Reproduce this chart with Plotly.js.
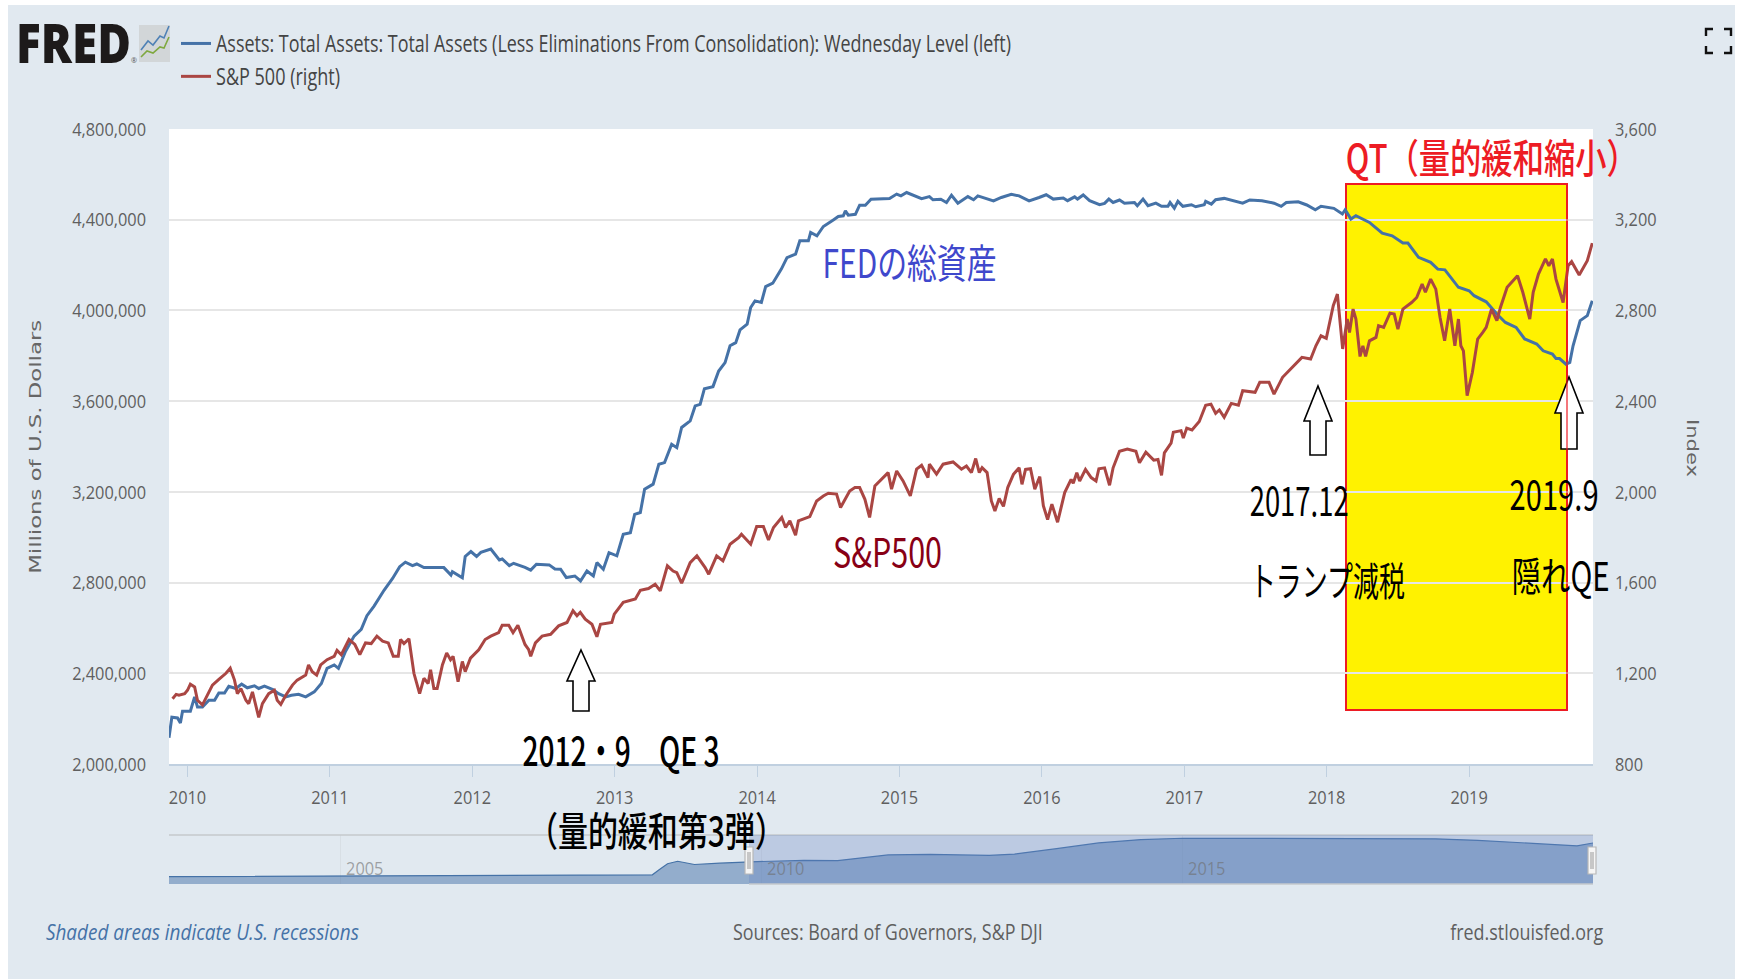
<!DOCTYPE html>
<html>
<head>
<meta charset="utf-8">
<script src="https://cdn.plot.ly/plotly-3.0.1.min.js"></script>
<style>
html,body{margin:0;padding:0;background:#fff;width:1741px;height:980px;overflow:hidden}
#chart{position:absolute;left:8px;top:5px;width:1727px;height:974px}
</style>
</head>
<body>
<div id="chart"></div>
<script>
// Total assets, thousands of millions-of-dollars axis units (value x 1000 = USD millions)
const assetYears = [2009.87,2009.89,2009.93,2009.95,2009.965,2010.02,2010.05,2010.07,2010.105,2010.15,2010.19,2010.22,2010.26,2010.29,2010.34,2010.38,2010.42,2010.47,2010.50,2010.54,2010.60,2010.64,2010.69,2010.73,2010.78,2010.83,2010.89,2010.94,2010.98,2011.03,2011.06,2011.11,2011.17,2011.22,2011.26,2011.31,2011.38,2011.44,2011.49,2011.53,2011.58,2011.61,2011.66,2011.71,2011.75,2011.80,2011.85,2011.86,2011.93,2011.95,2011.99,2012.03,2012.06,2012.13,2012.19,2012.21,2012.26,2012.29,2012.37,2012.41,2012.45,2012.54,2012.58,2012.62,2012.66,2012.72,2012.76,2012.805,2012.85,2012.875,2012.92,2012.96,2013.015,2013.06,2013.11,2013.14,2013.18,2013.21,2013.27,2013.31,2013.35,2013.40,2013.436,2013.47,2013.53,2013.565,2013.60,2013.63,2013.69,2013.73,2013.775,2013.81,2013.85,2013.88,2013.93,2013.955,2013.985,2014.03,2014.06,2014.11,2014.17,2014.21,2014.27,2014.30,2014.36,2014.376,2014.42,2014.465,2014.535,2014.57,2014.605,2014.62,2014.64,2014.69,2014.72,2014.76,2014.80,2014.93,2014.98,2015.01,2015.05,2015.095,2015.155,2015.21,2015.235,2015.29,2015.33,2015.365,2015.41,2015.48,2015.52,2015.55,2015.66,2015.715,2015.785,2015.84,2015.91,2015.98,2016.03,2016.08,2016.15,2016.18,2016.23,2016.25,2016.29,2016.335,2016.405,2016.44,2016.47,2016.50,2016.545,2016.58,2016.65,2016.67,2016.71,2016.745,2016.80,2016.84,2016.885,2016.90,2016.93,2016.955,2016.99,2017.05,2017.08,2017.14,2017.15,2017.19,2017.22,2017.28,2017.35,2017.41,2017.46,2017.545,2017.63,2017.68,2017.716,2017.80,2017.86,2017.92,2017.96,2018.05,2018.11,2018.13,2018.17,2018.205,2018.30,2018.39,2018.46,2018.535,2018.57,2018.645,2018.73,2018.78,2018.83,2018.88,2018.925,2019.0,2019.035,2019.12,2019.195,2019.255,2019.33,2019.39,2019.475,2019.52,2019.585,2019.61,2019.635,2019.68,2019.707,2019.73,2019.755,2019.78,2019.83,2019.865];
const assetValues = [2116,2206,2203,2181,2233,2233,2296,2251,2251,2281,2281,2313,2313,2343,2333,2352,2336,2345,2333,2343,2328,2310,2296,2303,2307,2296,2318,2355,2422,2437,2422,2497,2564,2594,2654,2696,2766,2818,2870,2890,2875,2882,2866,2866,2869,2866,2833,2848,2821,2915,2937,2915,2933,2948,2900,2904,2875,2885,2867,2855,2881,2878,2860,2859,2822,2829,2807,2851,2829,2888,2859,2932,2918,3013,3020,3101,3109,3212,3234,3322,3329,3410,3395,3484,3513,3579,3586,3655,3664,3733,3770,3844,3858,3914,3939,4013,4042,4035,4105,4120,4182,4233,4248,4307,4307,4344,4329,4370,4399,4414,4417,4439,4420,4424,4464,4464,4490,4493,4513,4505,4520,4508,4493,4502,4488,4490,4476,4508,4473,4502,4488,4505,4483,4498,4512,4505,4483,4498,4510,4491,4496,4484,4501,4491,4509,4484,4466,4472,4491,4476,4487,4473,4476,4462,4491,4462,4473,4459,4459,4476,4451,4481,4459,4466,4457,4466,4481,4469,4488,4494,4484,4473,4487,4484,4473,4459,4476,4479,4465,4444,4459,4450,4425,4444,4403,4418,4388,4341,4329,4297,4297,4234,4212,4182,4179,4138,4102,4087,4065,4038,3984,3947,3925,3874,3852,3822,3808,3788,3788,3763,3771,3844,3903,3955,3977,4043];

const spYears = [2009.895,2009.92,2009.94,2009.98,2010.0,2010.02,2010.05,2010.07,2010.105,2010.14,2010.175,2010.22,2010.27,2010.30,2010.33,2010.35,2010.375,2010.41,2010.43,2010.456,2010.50,2010.526,2010.57,2010.61,2010.63,2010.655,2010.69,2010.737,2010.77,2010.83,2010.85,2010.876,2010.907,2010.935,2010.98,2011.03,2011.05,2011.08,2011.134,2011.175,2011.21,2011.25,2011.29,2011.33,2011.37,2011.41,2011.445,2011.48,2011.496,2011.52,2011.555,2011.59,2011.63,2011.66,2011.69,2011.707,2011.73,2011.753,2011.79,2011.82,2011.847,2011.865,2011.90,2011.93,2011.95,2011.987,2012.045,2012.09,2012.13,2012.185,2012.21,2012.256,2012.286,2012.32,2012.37,2012.396,2012.41,2012.443,2012.49,2012.55,2012.606,2012.665,2012.707,2012.735,2012.758,2012.793,2012.84,2012.875,2012.90,2012.98,2012.997,2013.06,2013.145,2013.18,2013.237,2013.284,2013.32,2013.37,2013.41,2013.436,2013.47,2013.53,2013.577,2013.635,2013.66,2013.716,2013.76,2013.81,2013.87,2013.89,2013.955,2013.997,2014.044,2014.08,2014.115,2014.173,2014.20,2014.23,2014.27,2014.29,2014.37,2014.418,2014.465,2014.50,2014.558,2014.586,2014.65,2014.687,2014.72,2014.757,2014.79,2014.827,2014.86,2014.92,2014.944,2014.98,2015.025,2015.076,2015.12,2015.155,2015.20,2015.21,2015.26,2015.306,2015.376,2015.435,2015.47,2015.505,2015.535,2015.56,2015.58,2015.615,2015.645,2015.67,2015.70,2015.73,2015.76,2015.80,2015.84,2015.86,2015.885,2015.92,2015.95,2015.985,2016.01,2016.04,2016.07,2016.11,2016.16,2016.205,2016.22,2016.245,2016.265,2016.306,2016.346,2016.38,2016.40,2016.44,2016.475,2016.50,2016.545,2016.60,2016.66,2016.685,2016.73,2016.785,2016.815,2016.84,2016.86,2016.907,2016.923,2016.977,2016.993,2017.017,2017.054,2017.105,2017.15,2017.187,2017.22,2017.246,2017.28,2017.33,2017.38,2017.41,2017.497,2017.53,2017.595,2017.63,2017.69,2017.765,2017.826,2017.887,2017.924,2017.96,2017.997,2018.046,2018.075,2018.112,2018.144,2018.16,2018.185,2018.205,2018.234,2018.254,2018.273,2018.30,2018.346,2018.364,2018.40,2018.444,2018.474,2018.50,2018.535,2018.596,2018.632,2018.67,2018.693,2018.73,2018.766,2018.796,2018.828,2018.864,2018.90,2018.925,2018.942,2018.96,2018.986,2019.023,2019.06,2019.096,2019.12,2019.157,2019.195,2019.22,2019.267,2019.34,2019.377,2019.426,2019.45,2019.487,2019.536,2019.56,2019.585,2019.61,2019.66,2019.695,2019.72,2019.773,2019.83,2019.865];
const spValues = [1088,1107,1103,1110,1125,1152,1140,1081,1061,1103,1148,1173,1200,1222,1170,1110,1133,1081,1066,1118,1006,1066,1110,1125,1081,1063,1103,1148,1170,1192,1237,1207,1192,1237,1260,1275,1301,1282,1349,1327,1282,1334,1331,1364,1342,1334,1275,1275,1349,1331,1352,1200,1110,1178,1155,1215,1133,1133,1237,1290,1260,1275,1163,1252,1207,1267,1304,1349,1364,1379,1412,1412,1379,1412,1327,1304,1275,1334,1364,1372,1409,1424,1476,1454,1469,1439,1416,1361,1416,1424,1461,1513,1528,1566,1574,1593,1563,1674,1651,1644,1597,1688,1718,1666,1637,1718,1696,1769,1798,1813,1769,1847,1847,1788,1843,1887,1843,1872,1809,1872,1891,1960,1982,1994,1990,1931,2004,2019,2019,1967,1887,2026,2048,2085,2012,2092,2048,1982,2100,2117,2063,2122,2078,2122,2132,2100,2114,2085,2147,2085,2107,2085,1960,1916,1971,1936,2019,2077,2106,2033,2099,2102,2012,2067,1939,1878,1946,1866,1997,2055,2038,2084,2048,2099,2063,2048,2102,2106,2029,2106,2179,2189,2179,2128,2175,2140,2143,2073,2172,2215,2263,2270,2237,2281,2273,2310,2382,2387,2346,2361,2329,2390,2382,2446,2439,2483,2483,2431,2505,2556,2593,2586,2644,2688,2677,2821,2872,2630,2762,2703,2806,2762,2597,2644,2597,2666,2681,2733,2725,2788,2784,2718,2806,2835,2857,2916,2880,2938,2894,2769,2666,2806,2644,2762,2644,2622,2424,2527,2674,2703,2725,2806,2755,2813,2902,2953,2880,2762,2880,2960,3027,2997,3027,2938,2835,2997,3015,2956,3019,3097];

const navYears = [2002.96,2004,2005,2006,2007,2008,2008.7,2008.78,2008.88,2009.0,2009.2,2009.5,2009.87,2010.5,2010.9,2011.5,2012.0,2012.7,2013.0,2013.5,2014.0,2014.5,2015.0,2016.0,2017.0,2018.0,2018.5,2019.0,2019.68,2019.87];
const navValues = [720,760,830,850,860,880,905,1400,2000,2240,1920,2050,2190,2330,2310,2870,2920,2820,2950,3480,4050,4380,4510,4490,4450,4450,4310,4090,3760,4040];
const navTickYears = [2005,2010,2015];

const leftTicks = [2000000,2400000,2800000,3200000,3600000,4000000,4400000,4800000];
const rightTicks = [800,1200,1600,2000,2400,2800,3200,3600];
const yearTicks = [2010,2011,2012,2013,2014,2015,2016,2017,2018,2019];

const assetName = 'Assets: Total Assets: Total Assets (Less Eliminations From Consolidation): Wednesday Level (left)';
const spName = 'S&P 500 (right)';

// ---- layout helpers: convert window pixels to paper fractions ----
const DIV_L=8, DIV_T=5, DIV_W=1727, DIV_H=974;
const M={l:161,r:142,t:124,b:95};
const PW=DIV_W-M.l-M.r, PH=DIV_H-M.t-M.b;
const px=x=>(x-DIV_L-M.l)/PW;
const py=y=>1-(y-DIV_T-M.t)/PH;
const PLOT_L=169, PLOT_R=1593, PLOT_T=129, PLOT_B=764, NAV_T=835, NAV_B=884;

const LATIN='"Open Sans","Noto Sans CJK JP",sans-serif';
const JP='"Noto Sans CJK JP","Open Sans",sans-serif';
const GREY='#5f5f5f';
const TICK_SQUEEZE=0.86;

// each note: text, centre x, centre y, font, and the width the glyphs are squeezed to
const noteSpecs=[
  {text:'FRED',x:73,y:42,w:115,font:{family:'"Open Sans",sans-serif',size:54,color:'#1d1a1a',weight:800}},
  {text:'®',x:134,y:60,w:6,font:{family:LATIN,size:7,color:'#555555'}},
  {text:'Millions of U.S. Dollars',x:35,y:447,w:254,angle:-90,font:{family:'"DejaVu Sans",sans-serif',size:16,color:'#666666'}},
  {text:'Index',x:1693,y:448,w:58,angle:90,font:{family:'"DejaVu Sans",sans-serif',size:16,color:'#666666'}},
  {text:'QT（量的緩和縮小）',x:1491,y:156,w:292,font:{family:JP,size:40,color:'#ED1C24',weight:500}},
  {text:'FEDの総資産',x:909,y:261,w:174,font:{family:JP,size:40,color:'#3F48CC'}},
  {text:'S&P500',x:887,y:550,w:109,font:{family:JP,size:40,color:'#880015'}},
  {text:'2012・9　QE 3',x:621,y:749,w:197,font:{family:JP,size:40,color:'#000000',weight:500}},
  {text:'（量的緩和第3弾）',x:656,y:829,w:257,font:{family:JP,size:40,color:'#000000',weight:500}},
  {text:'2017.12',x:1299,y:499,w:99,font:{family:JP,size:40,color:'#000000'}},
  {text:'トランプ減税',x:1327,y:579,w:155,font:{family:JP,size:40,color:'#000000'}},
  {text:'2019.9',x:1554,y:493,w:89,font:{family:JP,size:40,color:'#000000'}},
  {text:'隠れQE',x:1560,y:574,w:98,font:{family:JP,size:40,color:'#000000'}},
  {text:'Shaded areas indicate U.S. recessions',x:202,y:932,w:313,font:{family:LATIN,size:21,color:'#4572A7',style:'italic'}},
  {text:'Sources: Board of Governors, S&P DJI',x:888,y:932,w:310,font:{family:LATIN,size:21,color:GREY}},
  {text:'fred.stlouisfed.org',x:1526,y:932,w:153,font:{family:LATIN,size:21,color:GREY}}
];

function rect(x0,y0,x1,y1,fill,lineColor,lineWidth,layer){
  return {type:'rect',xref:'paper',yref:'paper',x0:px(x0),x1:px(x1),y0:py(y0),y1:py(y1),
    fillcolor:fill,line:{color:lineColor||'rgba(0,0,0,0)',width:lineWidth||0},layer:layer||'above'};
}
function poly(points,fill,lineColor,lineWidth,close){
  const d=points.map((p,i)=>(i?'L':'M')+px(p[0])+','+py(p[1])).join(' ')+(close?' Z':'');
  return {type:'path',xref:'paper',yref:'paper',path:d,fillcolor:fill,line:{color:lineColor,width:lineWidth},layer:'above'};
}
function upArrow(cx,tip,shoulder,base){
  return poly([[cx,tip],[cx+14,shoulder],[cx+8,shoulder],[cx+8,base],[cx-8,base],[cx-8,shoulder],[cx-14,shoulder]],'#ffffff','#000000',1.6,true);
}

const shapes=[
  rect(PLOT_L,PLOT_T,PLOT_R,PLOT_B,'#ffffff',null,0,'below'),
  rect(1346,184,1567,710,'#FFF200','#ED1C24',2,'below'),
  upArrow(581,650,681,711),
  upArrow(1318,386,421,455),
  upArrow(1569,377,413,449),
  poly([[1567,184],[1567,710]],'rgba(0,0,0,0)','#ED1C24',1.2,false),
  // navigator
  {type:'line',xref:'paper',yref:'paper',x0:px(PLOT_L),x1:px(PLOT_R),y0:py(NAV_T),y1:py(NAV_T),line:{color:'#c4c9cc',width:1.5},layer:'above'},
  rect(749,NAV_T,PLOT_R,NAV_B,'rgba(102,133,194,0.3)',null,0,'above'),
  {type:'line',xref:'paper',yref:'paper',x0:px(749),x1:px(PLOT_R),y0:py(NAV_B),y1:py(NAV_B),line:{color:'#c4c9cc',width:1.5},layer:'above'},
  rect(745,847,753,874,'#f5f5f5','#b8b8b8',1.2),
  poly([[748,852],[748,869]],'rgba(0,0,0,0)','#999999',1,false),
  poly([[750,852],[750,869]],'rgba(0,0,0,0)','#999999',1,false),
  rect(1588,847,1596,874,'#f5f5f5','#b8b8b8',1.2),
  poly([[1591,852],[1591,869]],'rgba(0,0,0,0)','#999999',1,false),
  poly([[1593,852],[1593,869]],'rgba(0,0,0,0)','#999999',1,false),
  // logo icon
  rect(139,25,170,62,'#d2d6d8',null,0),
  poly([[141,50],[148,41],[153,45],[160,36],[164,38],[169,26]],'rgba(0,0,0,0)','#4f81b5',1.6,false),
  poly([[141,57],[147,51],[153,53],[160,47],[164,48],[169,37]],'rgba(0,0,0,0)','#7fa83f',1.6,false),
  // fullscreen icon
  poly([[1706,36],[1706,29],[1713,29]],'rgba(0,0,0,0)','#111111',2.4,false),
  poly([[1724,29],[1731,29],[1731,36]],'rgba(0,0,0,0)','#111111',2.4,false),
  poly([[1706,46],[1706,53],[1713,53]],'rgba(0,0,0,0)','#111111',2.4,false),
  poly([[1724,53],[1731,53],[1731,46]],'rgba(0,0,0,0)','#111111',2.4,false)
];

const annotations=noteSpecs.map(n=>({text:n.text,xref:'paper',yref:'paper',x:px(n.x),y:py(n.y),xanchor:'center',yanchor:'middle',
    showarrow:false,textangle:n.angle||0,font:n.font}))
  .concat(navTickYears.map(y=>({text:String(y),xref:'x2',yref:'paper',x:y,y:py(868),xanchor:'left',yanchor:'middle',showarrow:false,
    font:{family:LATIN,size:19,color:'rgba(110,110,110,0.6)'}})));

const traces=[
  {name:assetName,x:assetYears,y:assetValues.map(v=>v*1000),type:'scatter',mode:'lines',xaxis:'x',yaxis:'y',line:{color:'#4572A7',width:3},hoverinfo:'skip'},
  {name:spName,x:spYears,y:spValues,type:'scatter',mode:'lines',xaxis:'x',yaxis:'y2',line:{color:'#AA4643',width:3},hoverinfo:'skip'},
  {name:'navigator',x:navYears,y:navValues,type:'scatter',mode:'lines',fill:'tozeroy',fillcolor:'rgba(69,114,167,0.5)',xaxis:'x2',yaxis:'y3',line:{color:'#4572A7',width:1.2},showlegend:false,hoverinfo:'skip'}
];

const tickFont={family:LATIN,size:19,color:GREY};
const layout={
  width:DIV_W,height:DIV_H,margin:M,
  paper_bgcolor:'#E1E9F0',plot_bgcolor:'rgba(0,0,0,0)',showlegend:true,
  font:{family:LATIN,color:GREY,size:19},
  legend:{x:px(176),y:py(22),xanchor:'left',yanchor:'top',bgcolor:'rgba(0,0,0,0)',font:{family:LATIN,size:23,color:'#444444'},traceorder:'normal',itemwidth:30},
  xaxis:{type:'linear',range:[2009.87,2019.87],domain:[0,1],anchor:'y',tickvals:yearTicks,ticktext:yearTicks.map(String),
    showgrid:false,zeroline:false,ticks:'outside',ticklen:11,tickwidth:1,tickcolor:'#C0D0E0',showline:true,linecolor:'#C0D0E0',linewidth:2,ticklabelstandoff:4,tickfont:tickFont},
  yaxis:{range:[2000000,4800000],domain:[(NAV_B-PLOT_B)/PH,1],anchor:'x',tickvals:leftTicks,tickformat:',d',showgrid:true,gridcolor:'#E6E6E6',gridwidth:2,zeroline:false,showline:false,ticks:'',ticklabelstandoff:22,tickfont:tickFont},
  yaxis2:{range:[800,3600],overlaying:'y',side:'right',anchor:'x',tickvals:rightTicks,tickformat:',d',showgrid:false,zeroline:false,showline:false,ticks:'',ticklabelstandoff:21,tickfont:tickFont},
  xaxis2:{type:'linear',range:[2002.96,2019.87],domain:[0,1],anchor:'y3',showticklabels:false,ticks:'',tickvals:navTickYears,showgrid:true,gridcolor:'rgba(200,205,210,0.35)',gridwidth:1,zeroline:false,showline:false},
  yaxis3:{range:[0,4830],domain:[0,(NAV_B-NAV_T)/PH],anchor:'x2',showticklabels:false,ticks:'',showgrid:false,zeroline:false,showline:false},
  shapes:shapes,annotations:annotations
};

function squeezeTo(el,width){
  el.setAttribute('textLength',width);
  el.setAttribute('lengthAdjust','spacingAndGlyphs');
}
Plotly.newPlot('chart',traces,layout,{displayModeBar:false,staticPlot:true}).then(gd=>{
  gd.querySelectorAll('.xaxislayer-above text,.yaxislayer-above text,.overaxes-above text').forEach(t=>squeezeTo(t,t.getComputedTextLength()*TICK_SQUEEZE));
  const legendWidths=[795,124];
  gd.querySelectorAll('.legendtext').forEach((t,i)=>squeezeTo(t,legendWidths[i]));
  const texts=gd.querySelectorAll('.annotation-text');
  texts.forEach((t,i)=>{
    if(i<noteSpecs.length) squeezeTo(t,noteSpecs[i].w);
    else squeezeTo(t,t.getComputedTextLength()*TICK_SQUEEZE);
  });
});
</script>
</body>
</html>
